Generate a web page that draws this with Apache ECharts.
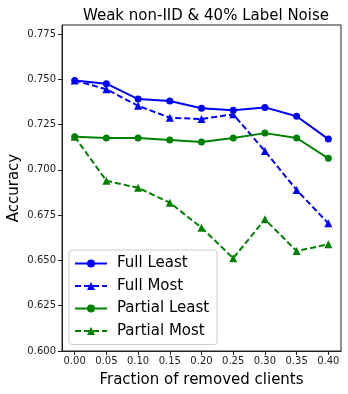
<!DOCTYPE html>
<html>
<head>
<meta charset="utf-8">
<script src="https://cdn.jsdelivr.net/npm/echarts@6/dist/echarts.min.js"></script>
<style>
  html, body { margin: 0; padding: 0; background: #fff; }
  #chart { width: 348px; height: 394px; }
</style>
</head>
<body>
<div id="chart"></div>
<script>
var fractions = [0.00, 0.05, 0.10, 0.15, 0.20, 0.25, 0.30, 0.35, 0.40]
var fullLeast = [0.7494, 0.7476, 0.7391, 0.7380, 0.7340, 0.7329, 0.7345, 0.7296, 0.7170]
var fullMost = [0.7494, 0.7445, 0.7354, 0.7288, 0.7281, 0.7307, 0.7104, 0.6889, 0.6705]
var partialLeast = [0.7183, 0.7176, 0.7176, 0.7165, 0.7154, 0.7176, 0.7203, 0.7176, 0.7064]
var partialMost = [0.7183, 0.6940, 0.6901, 0.6819, 0.6681, 0.6512, 0.6727, 0.6552, 0.6589]
var xTicks = [0.00, 0.05, 0.10, 0.15, 0.20, 0.25, 0.30, 0.35, 0.40]
var yTicks = [0.600, 0.625, 0.650, 0.675, 0.700, 0.725, 0.750, 0.775]

var chart = echarts.init(document.getElementById('chart'))
var font = 'DejaVu Sans'

function pairs(vals) {
  return vals.map(function (v, i) { return [fractions[i], v] })
}

function makeSeries(name, vals, color, dashed, symbol) {
  return {
    name: name,
    type: 'line',
    data: pairs(vals),
    symbol: symbol,
    symbolSize: symbol === 'circle' ? 7 : 8,
    itemStyle: { color: color },
    lineStyle: { color: color, width: 2, type: dashed ? [6, 3] : 'solid' },
    animation: false
  }
}

var option = {
  backgroundColor: '#fff',
  title: {
    text: 'Weak non-IID & 40% Label Noise',
    left: 201,
    textAlign: 'center',
    top: 4,
    textStyle: { fontFamily: font, fontSize: 15, fontWeight: 'normal', color: '#000' }
  },
  grid: {
    left: 62, right: 7, top: 25, bottom: 43,
    outerBoundsMode: 'none',
    containLabel: false,
    show: true, borderColor: '#222', borderWidth: 1
  },
  legend: {
    orient: 'vertical',
    left: 69,
    top: 250,
    itemWidth: 32,
    itemHeight: 10,
    itemGap: 7.5,
    padding: [6, 8, 6, 5],
    backgroundColor: '#fff',
    borderColor: '#ccc',
    borderWidth: 1,
    borderRadius: 3,
    textStyle: { fontFamily: font, fontSize: 15, color: '#000', padding: [0, 0, 0, 5] },
    data: ['Full Least', 'Full Most', 'Partial Least', 'Partial Most']
  },
  xAxis: {
    type: 'value',
    min: -0.02,
    max: 0.42,
    name: 'Fraction of removed clients',
    nameLocation: 'middle',
    nameGap: 22,
    nameMoveOverlap: false,
    nameTextStyle: { fontFamily: font, fontSize: 15, color: '#000' },
    axisLine: { show: true, onZero: false, lineStyle: { color: '#222' } },
    axisTick: { show: true, length: 4, customValues: xTicks, lineStyle: { color: '#222' } },
    axisLabel: {
      customValues: xTicks,
      fontFamily: font, fontSize: 10, color: '#222', margin: 5,
      formatter: function (v) { return v.toFixed(2) }
    },
    splitLine: { show: false }
  },
  yAxis: {
    type: 'value',
    min: 0.6,
    max: 0.78,
    name: 'Accuracy',
    nameLocation: 'middle',
    nameGap: 40,
    nameMoveOverlap: false,
    nameTextStyle: { fontFamily: font, fontSize: 15, color: '#000' },
    axisLine: { show: true, onZero: false, lineStyle: { color: '#222' } },
    axisTick: { show: true, length: 4, customValues: yTicks, lineStyle: { color: '#222' } },
    axisLabel: {
      customValues: yTicks,
      fontFamily: font, fontSize: 10, color: '#222', margin: 6,
      formatter: function (v) { return v.toFixed(3) }
    },
    splitLine: { show: false }
  },
  series: [
    makeSeries('Full Least', fullLeast, '#0000ff', false, 'circle'),
    makeSeries('Full Most', fullMost, '#0000ff', true, 'triangle'),
    makeSeries('Partial Least', partialLeast, '#008000', false, 'circle'),
    makeSeries('Partial Most', partialMost, '#008000', true, 'triangle')
  ]
}
chart.setOption(option)
</script>
</body>
</html>
